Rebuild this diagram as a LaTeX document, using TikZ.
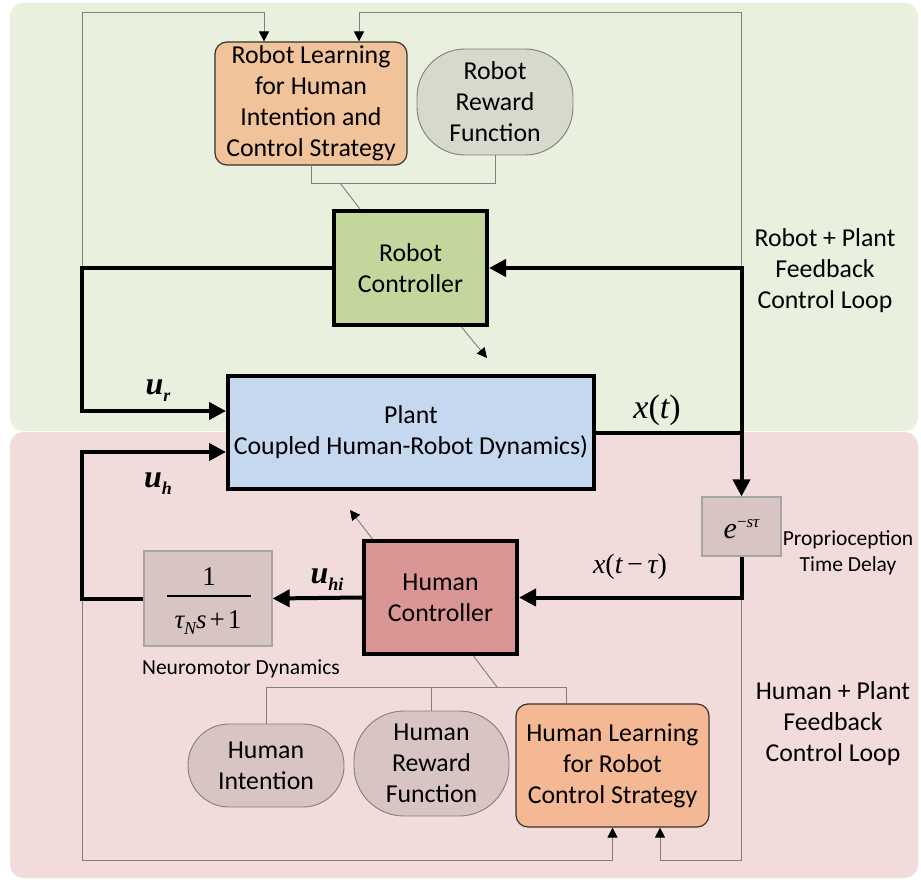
\documentclass[tikz,border=0pt]{standalone}
\usepackage{fontspec}
\setmainfont{Carlito}
\newfontfamily\tnr{Liberation Serif}
\usetikzlibrary{arrows.meta,calc}

\definecolor{loopgreen}{HTML}{E9F0DE}
\definecolor{looppink}{HTML}{F2DCDB}
\definecolor{ctrlgreen}{HTML}{C3D69B}
\definecolor{ctrlred}{HTML}{DA9694}
\definecolor{plantblue}{HTML}{C5D8F0}
\definecolor{learnorange}{HTML}{F1C39B}
\definecolor{learnsalmon}{HTML}{F4B994}
\definecolor{rewardgray}{HTML}{D7DACA}
\definecolor{humangray}{HTML}{D9C4C4}
\definecolor{wire}{HTML}{7F7F7F}

% italic serif symbols and their sub/superscripts
\newcommand{\mv}[1]{{\tnr\itshape #1}}
\newcommand{\mbv}[1]{{\tnr\itshape\bfseries #1}}
\newcommand{\lowidx}[2]{\raisebox{#1}{\fontsize{18}{18}\selectfont #2}}

\begin{document}
\begin{tikzpicture}[x=1pt,y=-1pt,
  font=\fontsize{25.8}{31}\selectfont,
  region/.style={rounded corners=13pt,draw=none},
  ctrlbox/.style={draw=black,line width=4pt,align=center,inner sep=0pt},
  learnbox/.style={draw=black!80,line width=1.2pt,rounded corners=12pt,align=center,inner sep=0pt},
  pill/.style={draw=wire,line width=0.9pt,align=center,inner sep=0pt},
  blockbox/.style={draw=black!35,line width=1.2pt,fill=humangray,inner sep=0pt},
  sig/.style={line width=4pt,-{Triangle[length=17pt,width=17pt]}},
  thinwire/.style={draw=wire,line width=0.9pt},
  thinarrow/.style={draw=wire,line width=0.9pt,-{Triangle[length=10pt,width=10pt,fill=black,color=black]}},
  side/.style={align=center,font=\fontsize{25.8}{31}\selectfont},
  note/.style={align=center,font=\fontsize{21.5}{26}\selectfont},
]
\useasboundingbox (0,0) rectangle (921,880);

% the two feedback-loop regions
\fill[region,loopgreen] (10,3) rectangle (918,431);
\fill[region,looppink] (10,432) rectangle (918,878);

% blocks
\node[learnbox,fill=learnorange,minimum width=192pt,minimum height=123pt] (RL) at (311,103.5)
  {Robot Learning\\for Human\\Intention and\\Control Strategy};
\node[pill,fill=rewardgray,rounded corners=48pt,minimum width=156pt,minimum height=106pt] (RR) at (495,102)
  {Robot\\Reward\\Function};
\node[ctrlbox,fill=ctrlgreen,minimum width=153pt,minimum height=114pt] (RC) at (410.5,268)
  {Robot\\Controller};
\node[ctrlbox,fill=plantblue,minimum width=366pt,minimum height=113pt] (P) at (411,432.5)
  {Plant\\Coupled Human-Robot Dynamics)};
\node[blockbox,minimum width=79pt,minimum height=59pt] (D) at (741.5,526.5) {};
\node[ctrlbox,fill=ctrlred,minimum width=153pt,minimum height=113pt] (HC) at (440.5,597.5)
  {Human\\Controller};
\node[blockbox,minimum width=128pt,minimum height=95pt] (N) at (208,598.5) {};
\node[pill,fill=humangray,rounded corners=41pt,minimum width=156pt,minimum height=83pt] (HI) at (266,765.5)
  {Human\\Intention};
\node[pill,fill=humangray,rounded corners=50pt,minimum width=155pt,minimum height=105pt] (HR) at (431.5,763.5)
  {Human\\Reward\\Function};
\node[learnbox,fill=learnsalmon,minimum width=193pt,minimum height=123pt] (HL) at (612.5,765.5)
  {Human Learning\\for Robot\\Control Strategy};

% transfer functions
\node[anchor=base,font=\tnr\fontsize{30}{30}\selectfont] (D-tf) at ([yshift=-11.5pt]D.center)
  {\mv{e}\raisebox{11pt}{\fontsize{17}{17}\selectfont −\mv{sτ}}};
\node[anchor=base,font=\tnr\fontsize{27}{27}\selectfont] (N-num) at ([xshift=1pt,yshift=13.5pt]N.center) {1};
\node[anchor=base,font=\tnr\fontsize{27}{27}\selectfont] (N-den) at ([xshift=0pt,yshift=-29.5pt]N.center)
  {\mv{τ}\lowidx{-6pt}{\mv{N}}\mv{s}\hspace{3pt}+\hspace{3pt}1};
\draw[line width=1.1pt] ([xshift=-41pt,yshift=2.5pt]N.center) -- ([xshift=43pt,yshift=2.5pt]N.center);

% junctions of the signal lines
\coordinate (xo) at (P.east -| D.north);
\coordinate (cur) at (82,411);
\coordinate (cuh) at (82,452);
\coordinate (rj) at (340,183);
\coordinate (hj) at (497,687);
\coordinate (hl1) at ([xshift=-46.5pt]HL.north);
\coordinate (rcout) at (487,358);
\coordinate (hcout) at (350,510);

% thin information wires
\draw[thinarrow] (cur |- RC.west) |- ([xshift=-47pt,yshift=29pt]RL.north) -- ([xshift=-47pt]RL.north);
\draw[thinarrow] (xo |- RC.east) |- ([xshift=48pt,yshift=29pt]RL.north) -- ([xshift=48pt]RL.north);
\draw[thinwire] (RL.south) |- ([yshift=-28pt]RR.south) -- (RR.south);
\draw[thinwire] (rj) -- ([xshift=-50.5pt]RC.north);
\draw[thinarrow] ([xshift=51pt]RC.south) -- (rcout);
\draw[thinarrow] ([xshift=-68pt]HC.north) -- (hcout);
\draw[thinwire] ([xshift=33pt]HC.south) -- (hj);
\draw[thinwire] (HI.north) |- (hl1 |- hj) -- (hl1);
\draw[thinwire] (HR.north) -- (HR.north |- hj);
\draw[thinarrow] (cuh |- N.west) |- ([yshift=-33pt]HL.south) -- (HL.south);
\draw[thinarrow] (xo |- HC.east) |- ([xshift=47.5pt,yshift=-33pt]HL.south) -- ([xshift=47.5pt]HL.south);

% signal lines
\draw[sig] (RC.west) -| (cur) -- (cur -| P.west);
\draw[sig] (P.east) -- (xo) |- (RC.east);
\draw[sig] (xo) -- (D.north);
\draw[sig] (D.south) |- (HC.east);
\draw[sig] (HC.west) -- (N.east);
\draw[sig] (N.west) -| (cuh) -- (cuh -| P.west);

% signal names
\node[font=\tnr\fontsize{32}{32}\selectfont] (l-ur) at (158,391) {\mbv{u}\lowidx{-7pt}{\mbv{r}}};
\node[font=\tnr\fontsize{32}{32}\selectfont] (l-uh) at (158,484) {\mbv{u}\lowidx{-7pt}{\mbv{h}}};
\node[font=\tnr\fontsize{32}{32}\selectfont] (l-uhi) at (327,580) {\mbv{u}\lowidx{-7pt}{\mbv{hi}}};
\node[font=\tnr\fontsize{34}{34}\selectfont] (l-x) at (657,410) {\mv{x}(\mv{t})};
\node[font=\tnr\fontsize{28}{28}\selectfont] (l-xd) at (630,567) {\mv{x}(\mv{t}\,−\,\mv{τ})};

% captions
\node[note] (c-delay) at (848,553) {Proprioception\\Time Delay};
\node[note] (c-neuro) at (241,669) {Neuromotor Dynamics};
\node[side] (c-robot) at (825,271) {Robot + Plant\\Feedback\\Control Loop};
\node[side] (c-human) at (833,724) {Human + Plant\\Feedback\\Control Loop};
\end{tikzpicture}
\end{document}
